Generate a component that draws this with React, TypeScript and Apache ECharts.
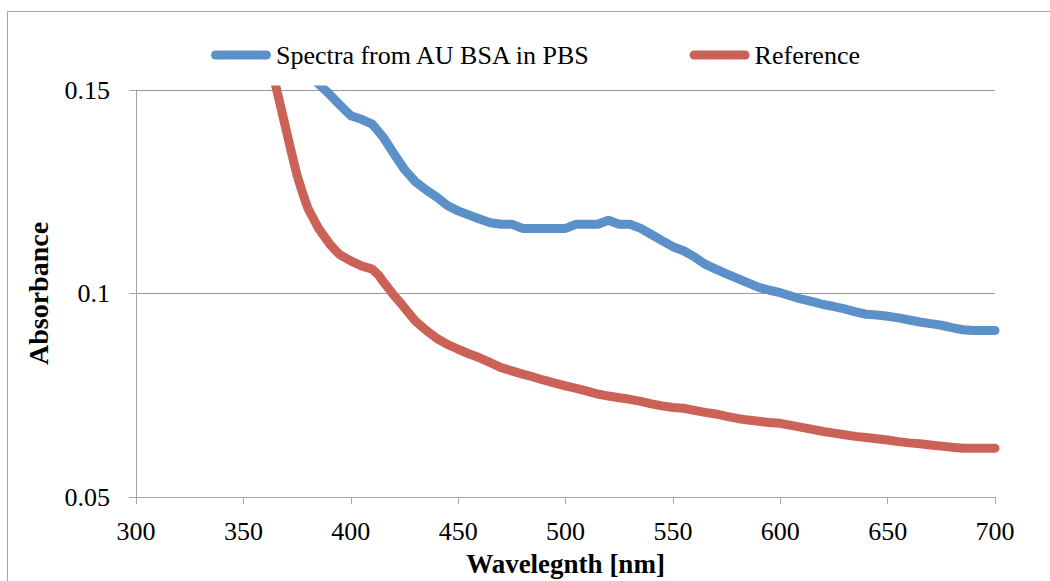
import React, { useEffect, useRef } from "react";
import * as echarts from "echarts";

const xTicks = { min: 300, max: 700, interval: 50 };
const yTicks = { min: 0.05, max: 0.15, interval: 0.05 };

const seriesNames = ["Spectra from AU BSA in PBS", "Reference"];

const blueWavelength = [
  375, 380, 385, 390, 395, 400, 405, 410, 415, 420, 425, 430, 435, 440, 445, 450,
  455, 460, 465, 470, 475, 480, 485, 490, 495, 500, 505, 510, 515, 520, 525, 530,
  535, 540, 545, 550, 555, 560, 565, 570, 575, 580, 585, 590, 595, 600, 605, 610,
  615, 620, 625, 630, 635, 640, 645, 650, 655, 660, 665, 670, 675, 680, 685, 690,
  695, 700,
];
const blueAbsorbance = [
  0.157, 0.154, 0.1515, 0.149, 0.1463, 0.1437, 0.1428, 0.1416, 0.1385, 0.1344,
  0.1305, 0.1275, 0.1255, 0.1237, 0.1216, 0.1203, 0.1193, 0.1183, 0.1174, 0.117,
  0.117, 0.116, 0.116, 0.116, 0.116, 0.116, 0.117, 0.117, 0.117, 0.118, 0.117,
  0.117, 0.116, 0.1145, 0.113, 0.1115, 0.1105, 0.109, 0.1072, 0.106, 0.1048,
  0.1037, 0.1026, 0.1015, 0.1008, 0.1002, 0.0994, 0.0986, 0.098, 0.0973, 0.0968,
  0.0962, 0.0955, 0.0949, 0.0947, 0.0944, 0.094, 0.0935, 0.093, 0.0926, 0.0922,
  0.0916, 0.0911, 0.0909, 0.0909, 0.0909,
];

const redWavelength = [
  355, 360, 365, 368, 370, 372, 375, 378, 380, 383, 385, 388, 390, 393, 395, 400,
  405, 410, 413, 415, 418, 420, 423, 425, 430, 435, 440, 445, 450, 455, 460, 465,
  470, 475, 480, 485, 490, 495, 500, 505, 510, 515, 520, 525, 530, 535, 540, 545,
  550, 555, 560, 565, 570, 575, 580, 585, 590, 595, 600, 605, 610, 615, 620, 625,
  630, 635, 640, 645, 650, 655, 660, 665, 670, 675, 680, 685, 690, 695, 700,
];
const redAbsorbance = [
  0.178, 0.164, 0.1512, 0.1445, 0.14, 0.1355, 0.129, 0.124, 0.121, 0.118, 0.116,
  0.1138, 0.1123, 0.1105, 0.1095, 0.108, 0.1068, 0.106, 0.1045, 0.103, 0.101,
  0.0996, 0.0978, 0.0965, 0.0933, 0.091, 0.089, 0.0875, 0.0863, 0.0852, 0.0842,
  0.083, 0.0818, 0.081, 0.0802, 0.0795, 0.0787, 0.078, 0.0773, 0.0767, 0.076,
  0.0753, 0.0748, 0.0744, 0.074, 0.0735, 0.0729, 0.0724, 0.072, 0.0718, 0.0713,
  0.0708, 0.0704, 0.0698, 0.0693, 0.0689, 0.0686, 0.0683, 0.0681, 0.0676, 0.0671,
  0.0666, 0.0661, 0.0657, 0.0653, 0.0649, 0.0646, 0.0643, 0.064, 0.0636, 0.0633,
  0.0631, 0.0628, 0.0625, 0.0622, 0.062, 0.062, 0.062, 0.062,
];

const FONT = "Liberation Serif";
const ICON = "path://M4.5,0H55.5A4.5,4.5,0,0,1,55.5,9H4.5A4.5,4.5,0,0,1,4.5,0Z";

export default function App() {
  const ref = useRef<HTMLDivElement>(null);
  useEffect(() => {
    if (!ref.current) return;
    const chart = echarts.init(ref.current, null, { renderer: "svg" });
    const pair = (xs: number[], ys: number[]) => xs.map((x, i) => [x, ys[i]]);
    chart.setOption({
      animation: false,
      backgroundColor: "#ffffff",
      textStyle: { fontFamily: FONT },
      graphic: [
        {
          type: "rect",
          shape: { x: 7.5, y: 11.5, width: 1200, height: 800 },
          style: { fill: "none", stroke: "#a6a6a6", lineWidth: 1 },
          silent: true,
        },
      ],
      legend: {
        left: 206,
        top: 37,
        itemWidth: 60,
        itemHeight: 9,
        itemGap: 98,
        data: [
          { name: seriesNames[0], icon: ICON },
          { name: seriesNames[1], icon: ICON },
        ],
        textStyle: { fontFamily: FONT, fontSize: 26, color: "#000" },
      },
      grid: { left: 136, right: 55, top: 90, bottom: 84, outerBoundsMode: "none", containLabel: false },
      xAxis: {
        type: "value",
        min: xTicks.min,
        max: xTicks.max,
        interval: xTicks.interval,
        name: "Wavelegnth [nm]",
        nameLocation: "middle",
        nameGap: 53,
        nameTextStyle: { fontFamily: FONT, fontSize: 27, fontWeight: "bold", color: "#000" },
        axisLine: { show: true, lineStyle: { color: "#a6a6a6", width: 1 } },
        axisTick: { show: true, length: 7, lineStyle: { color: "#a6a6a6" } },
        axisLabel: { fontFamily: FONT, fontSize: 26, color: "#000", margin: 21 },
        splitLine: { show: false },
      },
      yAxis: {
        type: "value",
        min: yTicks.min,
        max: yTicks.max,
        interval: yTicks.interval,
        name: "Absorbance",
        nameLocation: "middle",
        nameRotate: 90,
        nameGap: 84,
        nameTextStyle: { fontFamily: FONT, fontSize: 28, fontWeight: "bold", color: "#000" },
        axisLine: { show: true, lineStyle: { color: "#a6a6a6", width: 1 } },
        axisTick: { show: true, length: 7, lineStyle: { color: "#a6a6a6" } },
        axisLabel: {
          fontFamily: FONT,
          fontSize: 26,
          color: "#000",
          margin: 26,
          formatter: (v: number) => String(parseFloat(v.toFixed(2))),
        },
        splitLine: { show: true, lineStyle: { color: "#999999", width: 1 } },
      },
      series: [
        {
          name: seriesNames[0],
          type: "line",
          data: pair(blueWavelength, blueAbsorbance),
          showSymbol: false,
          symbol: "none",
          clip: true,
          lineStyle: { color: "#5b90c8", width: 9, cap: "round", join: "round" },
          itemStyle: { color: "#5b90c8" },
        },
        {
          name: seriesNames[1],
          type: "line",
          data: pair(redWavelength, redAbsorbance),
          showSymbol: false,
          symbol: "none",
          clip: true,
          lineStyle: { color: "#cc6158", width: 9, cap: "round", join: "round" },
          itemStyle: { color: "#cc6158" },
        },
      ],
    });
    return () => chart.dispose();
  }, []);
  return (
    <div
      ref={ref}
      style={{ position: "fixed", left: 0, top: 0, width: 1050, height: 581, background: "#fff" }}
    />
  );
}
